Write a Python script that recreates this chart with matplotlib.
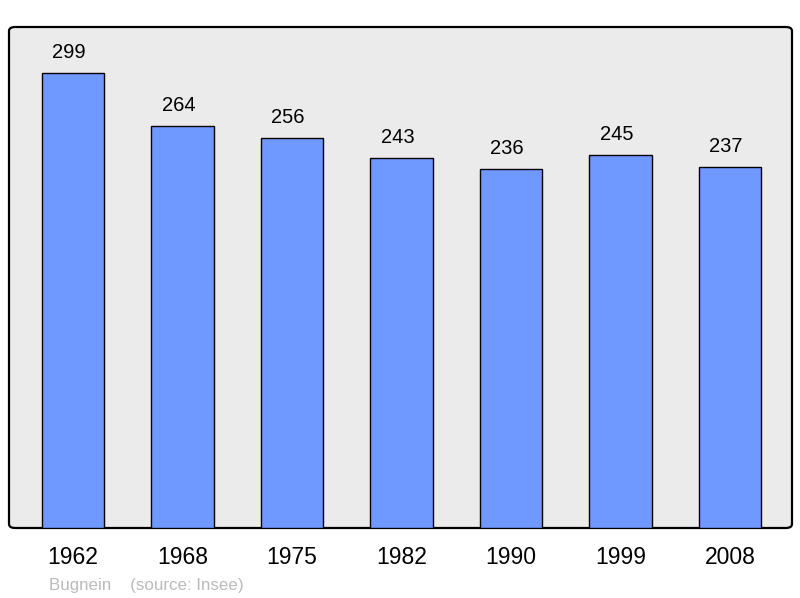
import matplotlib
matplotlib.use("Agg")
import matplotlib.pyplot as plt
from matplotlib.patches import FancyBboxPatch

years = ["1962", "1968", "1975", "1982", "1990", "1999", "2008"]
population = [299, 264, 256, 243, 236, 245, 237]

plt.rcParams['font.family'] = ['Liberation Sans', 'DejaVu Sans']

fig = plt.figure(figsize=(8, 5.98), dpi=100)
ax = fig.add_axes([9/800, 1-528/598, (792-9)/800, (528-27)/598])

ax.patch.set_visible(False)
for s in ax.spines.values():
    s.set_visible(False)
frame = FancyBboxPatch((0, 0), 1, 1, boxstyle="round,pad=0,rounding_size=0.008",
                       transform=ax.transAxes, facecolor="#ebebeb", edgecolor="black",
                       linewidth=1.6, zorder=0, clip_on=False)
ax.add_patch(frame)

x = list(range(len(years)))
bars = ax.bar(x, population, width=0.57, color="#7099ff", edgecolor="black",
              linewidth=1.0, zorder=2)
for xi, v in zip(x, population):
    ax.annotate(str(v), (xi, v), xytext=(-3, 11), textcoords="offset points",
                ha="center", va="baseline", fontsize=14.5, color="black")

ax.set_xlim(-0.585, 6.565)
ax.set_ylim(0, 329.2)
ax.set_xticks(x)
ax.set_xticklabels(years, fontsize=16.5)
ax.tick_params(axis="x", length=0, pad=13)
ax.set_yticks([])

fig.text(49/800, 1-590/598, "Bugnein    (source: Insee)", fontsize=12.2,
         color="#bbbbbb", ha="left", va="baseline")

fig.savefig("out.png", dpi=100)
